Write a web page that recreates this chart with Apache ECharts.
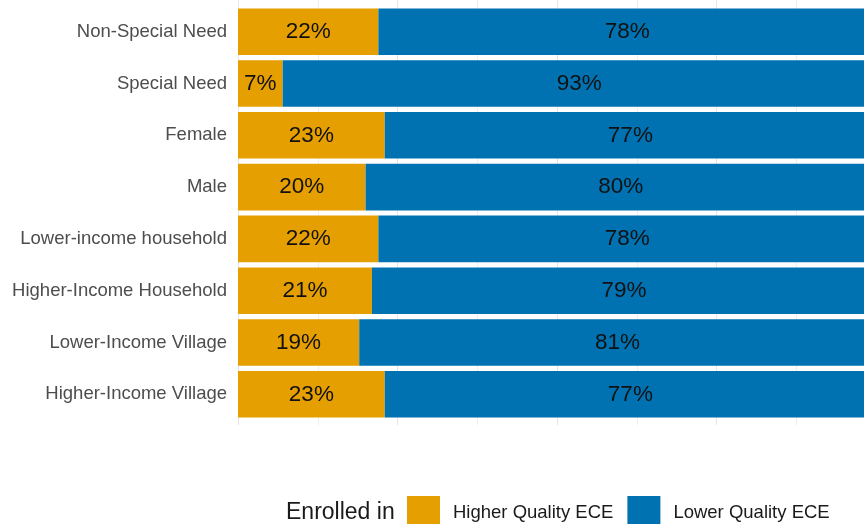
<!DOCTYPE html>
<html>
<head>
<meta charset="utf-8">
<title>Enrollment in ECE by group</title>
<script src="https://cdn.jsdelivr.net/npm/echarts@6/dist/echarts.min.js"></script>
<style>
  html, body { margin: 0; padding: 0; background: #ffffff; overflow: hidden; }
  /* the plot panel runs a little past the right edge of the window */
  #chart { width: 876px; height: 524px; }
</style>
</head>
<body>
<div id="chart"></div>
<script>
// Groups, listed top to bottom
const categories = [
  'Non-Special Need',
  'Special Need',
  'Female',
  'Male',
  'Lower-income household',
  'Higher-Income Household',
  'Lower-Income Village',
  'Higher-Income Village'
];
// Share of children (%) enrolled in each kind of ECE
const higherQuality = [22, 7, 23, 20, 22, 21, 19, 23];
const lowerQuality = [78, 93, 77, 80, 78, 79, 81, 77];
const seriesNames = ['Higher Quality ECE', 'Lower Quality ECE'];
const legendTitle = 'Enrolled in';

const FONT = '"Liberation Sans", Arial, Helvetica, sans-serif';
const COLORS = ['#E69F00', '#0072B2'];

const chart = echarts.init(document.getElementById('chart'), null, { renderer: 'canvas' });

function barSeries(name, values, color) {
  return {
    name: name,
    type: 'bar',
    stack: 'share',
    xAxisIndex: 0,
    yAxisIndex: 0,
    data: values,
    barWidth: '90%',
    itemStyle: { color: color },
    emphasis: { disabled: true },
    label: {
      show: true,
      position: 'inside',
      formatter: '{c}%',
      color: '#111111',
      fontFamily: FONT,
      fontSize: 22.5
    }
  };
}

chart.setOption({
  animation: false,
  backgroundColor: '#ffffff',
  grid: [
    // bars
    { left: 238, right: 0, top: 5.8, height: 414.4 },
    // background grid lines, spanning the full panel
    { left: 238, right: 0, top: 0, height: 425 }
  ],
  xAxis: [
    {
      gridIndex: 0, type: 'value', min: 0, max: 100,
      axisLabel: { show: false }, axisLine: { show: false },
      axisTick: { show: false }, splitLine: { show: false }
    },
    {
      gridIndex: 1, type: 'value', min: 0, max: 100, interval: 25,
      axisLabel: { show: false }, axisLine: { show: false },
      axisTick: { show: false },
      splitLine: { show: true, lineStyle: { color: '#E6E6E6', width: 1 } },
      minorTick: { show: false, splitNumber: 2 },
      minorSplitLine: { show: true, lineStyle: { color: '#EEEEEE', width: 1 } }
    }
  ],
  yAxis: [
    {
      gridIndex: 0, type: 'category', data: categories, inverse: true,
      axisLine: { show: false }, axisTick: { show: false },
      splitLine: { show: false },
      axisLabel: {
        margin: 11, color: '#4D4D4D', fontFamily: FONT, fontSize: 18.5
      }
    },
    {
      gridIndex: 1, type: 'value', min: 0, max: 1, show: false
    }
  ],
  legend: {
    left: 407,
    top: 496,
    padding: 0,
    itemWidth: 33,
    itemHeight: 33,
    itemGap: 14,
    icon: 'rect',
    selectedMode: false,
    data: seriesNames,
    textStyle: {
      color: '#1A1A1A', fontFamily: FONT, fontSize: 18.5,
      padding: [0, 0, 0, 8]
    }
  },
  graphic: [
    {
      type: 'text',
      x: 286,
      y: 513,
      style: {
        text: legendTitle,
        fill: '#1A1A1A',
        font: '23px ' + FONT,
        verticalAlign: 'middle',
        align: 'left'
      }
    }
  ],
  series: [
    barSeries(seriesNames[0], higherQuality, COLORS[0]),
    barSeries(seriesNames[1], lowerQuality, COLORS[1])
  ]
});
</script>
</body>
</html>
